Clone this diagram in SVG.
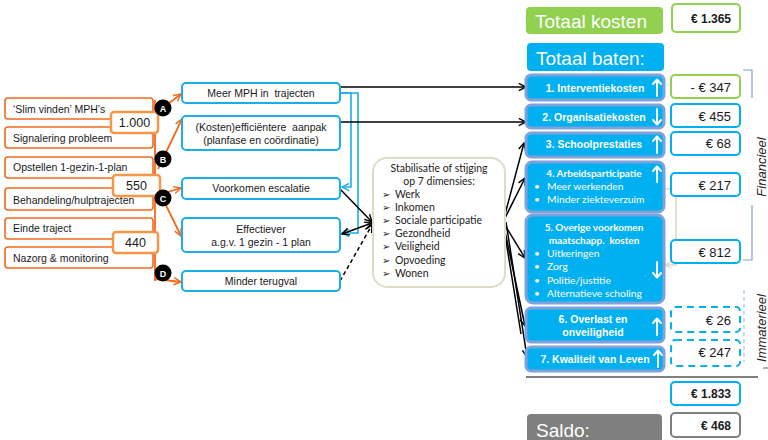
<svg xmlns="http://www.w3.org/2000/svg" width="768" height="440" viewBox="0 0 768 440">
  <defs>
    <marker id="ah-k" viewBox="0 0 10 10" refX="9" refY="5" markerWidth="9" markerHeight="9" markerUnits="userSpaceOnUse" orient="auto-start-reverse">
      <path d="M1,1 L9,5 L1,9" fill="none" stroke="#000" stroke-width="1.6"/>
    </marker>
    <marker id="ah-o" viewBox="0 0 10 10" refX="9" refY="5" markerWidth="9" markerHeight="9" markerUnits="userSpaceOnUse" orient="auto">
      <path d="M1,1 L9,5 L1,9" fill="none" stroke="#f26b1d" stroke-width="1.6"/>
    </marker>
    <marker id="ah-b" viewBox="0 0 10 10" refX="9" refY="5" markerWidth="9" markerHeight="9" markerUnits="userSpaceOnUse" orient="auto">
      <path d="M1,1 L9,5 L1,9" fill="none" stroke="#1aaee8" stroke-width="1.6"/>
    </marker>
    <marker id="ah-g" viewBox="0 0 10 10" refX="9" refY="5" markerWidth="8" markerHeight="8" markerUnits="userSpaceOnUse" orient="auto">
      <path d="M1,1 L9,5 L1,9" fill="none" stroke="#dcd8c6" stroke-width="1.6"/>
    </marker>
  </defs>
  <style>
    text { white-space: pre; }
    .ar { font-family: "Liberation Sans", Arial, sans-serif; }
    .cal { font-family: Lato, "Open Sans", sans-serif; }
    .step rect { fill: #fff; stroke: #f26b1d; stroke-width: 1.6; }
    .step text { font-size: 10.5px; fill: #1a1a1a; }
    .count rect { fill: #fff; stroke: #f79646; stroke-width: 2.5; }
    .count text { font-size: 12.5px; fill: #1a1a1a; text-anchor: middle; }
    .tag circle { fill: #000; }
    .tag text { font-size: 9px; font-weight: bold; fill: #fff; text-anchor: middle; }
    .eff rect { fill: #fff; stroke: #1aaee8; stroke-width: 2; }
    .eff text { font-size: 10.5px; fill: #1a1a1a; text-anchor: middle; }
    .ben rect { fill: #00b0f0; stroke: #7fa2dc; stroke-width: 3; }
    .ben text { fill: #fff; font-weight: bold; }
    .ben .t { font-size: 10.5px; text-anchor: middle; }
    .ben .c { font-size: 10px; text-anchor: middle; }
    .ben .li { font-size: 10.3px; font-weight: normal; }
    .ben path { fill: none; stroke: #fff; stroke-width: 2; stroke-linecap: round; stroke-linejoin: round; }
    .val rect { fill: #fff; stroke: #00b0f0; stroke-width: 2; }
    .val text { font-size: 13px; fill: #1a1a1a; text-anchor: end; }
    .val.dash rect { stroke-dasharray: 7,5; }
    .val.green rect { stroke: #92d050; }
    .val.grey rect { stroke: #7f7f7f; }
    .val.bold text { font-size: 12px; font-weight: bold; }
    .head rect { stroke: none; }
    .head text { font-size: 19px; fill: #fff; }
    .lk { fill: none; stroke: #000; stroke-width: 1.5; }
    .lo { fill: none; stroke: #f26b1d; stroke-width: 1.8; }
    .lb { fill: none; stroke: #1aaee8; stroke-width: 1.6; }
    .brk { fill: none; stroke: #7f9fcf; stroke-width: 1.2; }
    .side { font-size: 13px; font-style: italic; fill: #222; text-anchor: middle; }
    .dim { font-size: 10.5px; fill: #222; }
    .dim .b { font-family: "DejaVu Sans", sans-serif; font-size: 10px; }
  </style>

  <!-- connectors -->
  <g id="connectors">
    <!-- orange: process steps to effects -->
    <line class="lo" x1="155" y1="100" x2="155" y2="281"/>
    <line class="lo" x1="155" y1="114" x2="181" y2="94" marker-end="url(#ah-o)"/>
    <line class="lo" x1="158" y1="169" x2="182" y2="119" marker-end="url(#ah-o)"/>
    <line class="lo" x1="158" y1="195" x2="181" y2="188" marker-end="url(#ah-o)"/>
    <line class="lo" x1="160" y1="193" x2="181" y2="236" marker-end="url(#ah-o)"/>
    <line class="lo" x1="155" y1="279" x2="181" y2="282" marker-end="url(#ah-o)"/>
    <!-- blue: more MPH feeds escalation and effectiveness -->
    <path class="lb" d="M340,93 H351 V187 H342" marker-end="url(#ah-b)"/>
    <path class="lb" d="M340,93 H358 V233 H342" marker-end="url(#ah-b)"/>
    <!-- black: effects to benefits -->
    <line class="lk" x1="340" y1="87" x2="526" y2="87" marker-end="url(#ah-k)"/>
    <line class="lk" x1="340" y1="122" x2="526" y2="122" marker-end="url(#ah-k)"/>
    <line class="lk" x1="340" y1="189" x2="372" y2="222" marker-end="url(#ah-k)"/>
    <line class="lk" x1="342" y1="234" x2="372" y2="223" marker-start="url(#ah-k)" marker-end="url(#ah-k)"/>
    <line class="lk" x1="340" y1="281" x2="372" y2="225" stroke-dasharray="4,3" marker-end="url(#ah-k)"/>
    <line class="lk" x1="503" y1="222" x2="524" y2="143" marker-end="url(#ah-k)"/>
    <line class="lk" x1="503" y1="222" x2="525" y2="178" marker-end="url(#ah-k)"/>
    <line class="lk" x1="503" y1="222" x2="525" y2="258" marker-end="url(#ah-k)"/>
    <line class="lk" x1="503" y1="222" x2="525" y2="326" marker-end="url(#ah-k)"/>
    <line class="lk" x1="506" y1="222" x2="527" y2="357" marker-end="url(#ah-k)"/>
    <line class="lk" x1="503" y1="222" x2="521" y2="334"/>
    <!-- beige link between the 217 and 812 values -->
    <path d="M663,189 H676 V265 H665" fill="none" stroke="#dcd8c6" stroke-width="1.5" marker-end="url(#ah-g)"/>
  </g>

  <!-- process steps -->
  <g id="step-slim" class="step ar"><rect x="5" y="98" width="148" height="21" rx="3"/><text x="13" y="113">‘Slim vinden’ MPH’s</text></g>
  <g id="step-signalering" class="step ar"><rect x="5" y="127" width="148" height="21" rx="3"/><text x="13" y="142">Signalering probleem</text></g>
  <g id="step-opstellen" class="step ar"><rect x="5" y="157" width="148" height="21" rx="3"/><text x="13" y="171">Opstellen 1-gezin-1-plan</text></g>
  <g id="step-behandeling" class="step ar"><rect x="5" y="188" width="148" height="22" rx="3"/><text x="13" y="204">Behandeling/hulptrajecten</text></g>
  <g id="step-einde" class="step ar"><rect x="5" y="218" width="148" height="21" rx="3"/><text x="13" y="232">Einde traject</text></g>
  <g id="step-nazorg" class="step ar"><rect x="5" y="247" width="148" height="21" rx="3"/><text x="13" y="262">Nazorg &amp; monitoring</text></g>

  <!-- counts -->
  <g id="count-1000" class="count ar"><rect x="111" y="112" width="47" height="21" rx="3"/><text x="134.5" y="127">1.000</text></g>
  <g id="count-550" class="count ar"><rect x="113" y="175" width="47" height="21" rx="3"/><text x="136.5" y="190">550</text></g>
  <g id="count-440" class="count ar"><rect x="113" y="232" width="45" height="21" rx="3"/><text x="135.5" y="247">440</text></g>

  <!-- tags -->
  <g id="tag-a" class="tag ar"><circle cx="163" cy="108" r="8.5"/><text x="163" y="111.5">A</text></g>
  <g id="tag-b" class="tag ar"><circle cx="163" cy="159" r="8.5"/><text x="163" y="162.5">B</text></g>
  <g id="tag-c" class="tag ar"><circle cx="163" cy="198" r="8.5"/><text x="163" y="201.5">C</text></g>
  <g id="tag-d" class="tag ar"><circle cx="163" cy="273" r="8.5"/><text x="163" y="276.5">D</text></g>

  <!-- effects -->
  <g id="eff-mph" class="eff ar"><rect x="182" y="83" width="158" height="20" rx="4"/><text x="261" y="97">Meer MPH in  trajecten</text></g>
  <g id="eff-kosten" class="eff ar"><rect x="182" y="116" width="158" height="34" rx="4"/><text x="261" y="131">(Kosten)efficiëntere  aanpak</text><text x="261" y="144">(planfase en coördinatie)</text></g>
  <g id="eff-escalatie" class="eff ar"><rect x="182" y="178" width="158" height="21" rx="4"/><text x="261" y="192">Voorkomen escalatie</text></g>
  <g id="eff-effectiever" class="eff ar"><rect x="182" y="218" width="158" height="34" rx="4"/><text x="261" y="232.5">Effectiever</text><text x="261" y="246">a.g.v. 1 gezin - 1 plan</text></g>
  <g id="eff-terugval" class="eff ar"><rect x="182" y="271" width="158" height="20" rx="4"/><text x="261" y="285">Minder terugval</text></g>

  <!-- dimensions -->
  <g id="dimensies" class="cal">
    <rect x="373" y="158" width="132" height="129" rx="14" fill="#fff" stroke="#dedbc9" stroke-width="2"/>
    <text class="dim" x="439" y="171.5" text-anchor="middle">Stabilisatie of stijging</text>
    <text class="dim" x="439" y="185" text-anchor="middle">op 7 dimensies:</text>
    <g class="dim">
      <text class="b" x="382" y="198">➢</text><text x="395" y="198">Werk</text>
      <text class="b" x="382" y="211">➢</text><text x="395" y="211">Inkomen</text>
      <text class="b" x="382" y="224">➢</text><text x="395" y="224">Sociale participatie</text>
      <text class="b" x="382" y="237">➢</text><text x="395" y="237">Gezondheid</text>
      <text class="b" x="382" y="250">➢</text><text x="395" y="250">Veiligheid</text>
      <text class="b" x="382" y="264">➢</text><text x="395" y="264">Opvoeding</text>
      <text class="b" x="382" y="277">➢</text><text x="395" y="277">Wonen</text>
    </g>
  </g>

  <!-- totals headers -->
  <g id="totaal-kosten" class="head ar"><rect x="526" y="7" width="137" height="27" rx="4" fill="#92d050"/><text x="535" y="28">Totaal kosten</text></g>
  <g id="totaal-baten" class="head ar"><rect x="527" y="43" width="137" height="28" rx="4" fill="#00b0f0"/><text x="536" y="65">Totaal baten:</text></g>
  <g id="saldo" class="head ar"><rect x="527" y="414" width="135" height="32" rx="4" fill="#7f7f7f"/><text x="536" y="437">Saldo:</text></g>

  <!-- benefits -->
  <g id="ben-1" class="ben ar"><rect x="526" y="75" width="138" height="25" rx="5"/><text class="t" x="595" y="92">1. Interventiekosten</text><path d="M657,96 V80 M653,84 L657,79.5 L661,84"/></g>
  <g id="ben-2" class="ben ar"><rect x="526" y="105" width="138" height="23" rx="5"/><text class="t" x="594" y="120.5">2. Organisatiekosten</text><path d="M657,109 V124 M653,120 L657,124.5 L661,120"/></g>
  <g id="ben-3" class="ben ar"><rect x="526" y="133" width="138" height="24" rx="5"/><text class="t" x="594" y="147.5">3. Schoolprestaties</text><path d="M657,153 V137 M653,141 L657,136.5 L661,141"/></g>
  <g id="ben-4" class="ben cal"><rect x="526" y="162" width="138" height="50" rx="6"/>
    <text class="c" x="594" y="176.5">4. Arbeidsparticipatie</text>
    <text class="li" x="534" y="189.5">•</text><text class="li" x="547" y="189.5">Meer werkenden</text>
    <text class="li" x="534" y="202.5">•</text><text class="li" x="547" y="202.5">Minder ziekteverzuim</text>
    <path d="M657,182 V167 M653,171 L657,166.5 L661,171"/></g>
  <g id="ben-5" class="ben cal"><rect x="526" y="215" width="138" height="88" rx="7"/>
    <text class="c" x="594" y="230.5">5. Overige voorkomen</text>
    <text class="c" x="594" y="243.5">maatschapp.  kosten</text>
    <text class="li" x="534" y="256.5">•</text><text class="li" x="547" y="256.5">Uitkeringen</text>
    <text class="li" x="534" y="270">•</text><text class="li" x="547" y="270">Zorg</text>
    <text class="li" x="534" y="283.5">•</text><text class="li" x="547" y="283.5">Politie/justitie</text>
    <text class="li" x="534" y="297">•</text><text class="li" x="547" y="297">Alternatieve scholing</text>
    <path d="M657,262 V277 M653,273 L657,277.5 L661,273"/></g>
  <g id="ben-6" class="ben ar"><rect x="526" y="308" width="138" height="34" rx="5"/><text class="t" x="593" y="322.5">6. Overlast en</text><text class="t" x="593" y="335.5">onveiligheid</text><path d="M657,335 V319 M653,323 L657,318.5 L661,323"/></g>
  <g id="ben-7" class="ben ar"><rect x="526" y="347" width="138" height="24" rx="5"/><text class="t" x="595" y="363">7. Kwaliteit van Leven</text><path d="M658,367 V351 M654,355 L658,350.5 L662,355"/></g>

  <!-- values -->
  <g id="val-kosten" class="val green bold ar"><rect x="672" y="4" width="68" height="28" rx="4"/><text x="731" y="23">€ 1.365</text></g>
  <g id="val-1" class="val green ar"><rect x="671" y="75" width="69" height="23" rx="4"/><text x="731" y="91.5">- € 347</text></g>
  <g id="val-2" class="val ar"><rect x="671" y="104" width="69" height="23" rx="4"/><text x="731" y="120.5">€ 455</text></g>
  <g id="val-3" class="val ar"><rect x="671" y="132" width="69" height="23" rx="4"/><text x="731" y="148">€ 68</text></g>
  <g id="val-4" class="val ar"><rect x="671" y="173" width="69" height="23" rx="4"/><text x="731" y="190">€ 217</text></g>
  <g id="val-5" class="val ar"><rect x="671" y="240" width="69" height="23" rx="4"/><text x="731" y="257">€ 812</text></g>
  <g id="val-6" class="val dash ar"><rect x="671" y="307" width="69" height="25" rx="4"/><text x="731" y="324.5">€ 26</text></g>
  <g id="val-7" class="val dash ar"><rect x="671" y="340" width="69" height="26" rx="4"/><text x="731" y="357">€ 247</text></g>
  <g id="val-baten" class="val bold ar"><rect x="671" y="382" width="69" height="23" rx="4"/><text x="731" y="398">€ 1.833</text></g>
  <g id="val-saldo" class="val grey bold ar"><rect x="671" y="413" width="69" height="24" rx="4"/><text x="731" y="430">€ 468</text></g>

  <!-- sum line -->
  <line x1="526" y1="377" x2="758" y2="377" stroke="#000" stroke-width="1"/>

  <!-- category brackets -->
  <path class="brk" d="M743,70 H752 V98"/>
  <path class="brk" d="M752,205 V260 H743"/>
  <line x1="744" y1="290" x2="744" y2="362" stroke="#9dc3e6" stroke-width="1.2" stroke-dasharray="4,3"/>
  <line x1="763" y1="368" x2="768" y2="368" stroke="#333" stroke-width="0.8"/>
  <text class="side ar" transform="translate(766,167) rotate(-90)">Financieel</text>
  <text class="side ar" transform="translate(766,328) rotate(-90)">Immaterieel</text>
</svg>
